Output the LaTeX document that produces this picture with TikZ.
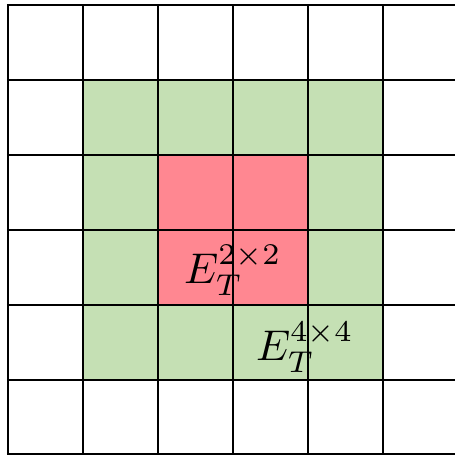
\documentclass[tikz,border=0pt]{standalone}
\usepackage{graphicx}
\begin{document}
\begin{tikzpicture}[x=1pt,y=-1pt,
  gridline/.style={line width=2.4pt,black},
  greenfill/.style={fill={rgb,255:red,197;green,224;blue,180}},
  pinkfill/.style={fill={rgb,255:red,255;green,135;blue,145}},
  label/.style={inner sep=0pt,anchor=base west}]
\useasboundingbox (0,0) rectangle (455,456);
\fill[white] (0,0) rectangle (455,456);
\fill[greenfill] (83,80) rectangle (383,380);
\fill[pinkfill] (158,155) rectangle (308,305);
\foreach \x in {8,83,158,233,308,383}
  \draw[gridline] (\x,4) -- (\x,455);
\foreach \y in {5,80,155,230,305,380,454}
  \draw[gridline] (6.8,\y) -- (456,\y);
\node[label] (e2) at (184,283) {\scalebox{4.3}{$E_T^{2\times2}$}};
\node[label] (e4) at (256,360) {\scalebox{4.3}{$E_T^{4\times4}$}};
\end{tikzpicture}
\end{document}
